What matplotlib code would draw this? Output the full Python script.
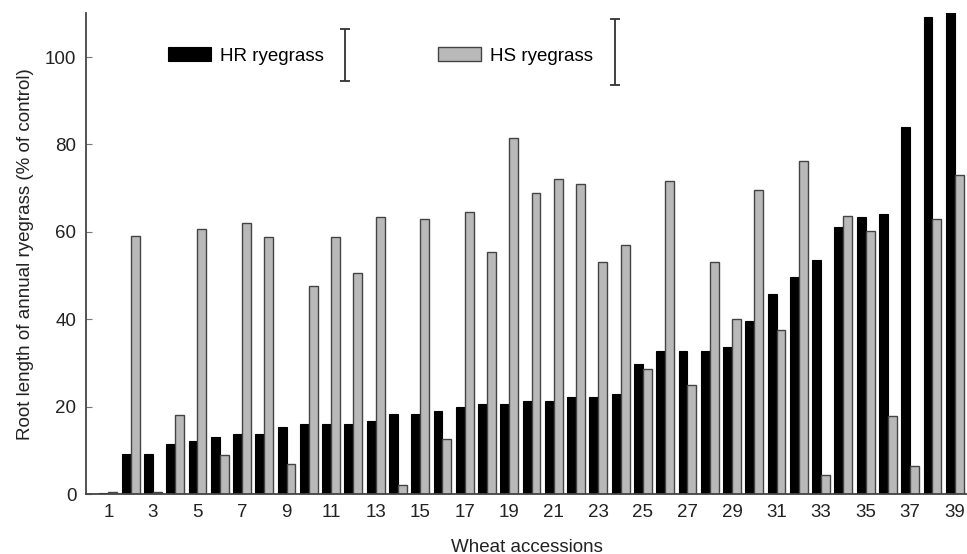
import matplotlib.pyplot as plt
import numpy as np

plt.rcParams['font.family'] = ['Liberation Sans', 'DejaVu Sans']

accessions = np.arange(1, 40)
hr = [0.3, 9.2, 9.2, 11.5, 12.2, 13.0, 13.8, 13.8, 15.3, 16.0,
      16.0, 16.0, 16.8, 18.3, 18.3, 19.1, 19.9, 20.6, 20.6, 21.4,
      21.4, 22.2, 22.2, 22.9, 29.7, 32.8, 32.8, 32.8, 33.6, 39.7,
      45.8, 49.6, 53.5, 61.1, 63.3, 64.2, 84.0, 109.2, 110.5]
hs = [0.6, 59.1, 0.6, 18.2, 60.7, 8.9, 62.1, 58.9, 6.8, 47.6,
      58.9, 50.5, 63.5, 2.1, 63.0, 12.7, 64.6, 55.3, 81.4, 68.8,
      72.0, 70.9, 53.0, 57.1, 28.6, 71.7, 24.9, 53.2, 40.1, 69.5,
      37.5, 76.2, 4.3, 63.7, 60.1, 17.9, 6.4, 62.9, 72.9]
labels = ["HR ryegrass", "HS ryegrass"]
# LSD bars (centre, half length)
lsd_hr = (100.5, 5.9)
lsd_hs = (101.2, 7.6)

fs = 13.5
fig = plt.figure(figsize=(9.67, 5.54), dpi=100)
ax = fig.add_axes([0.089, 0.108, 0.911, 0.868])

w = 0.40
b1 = ax.bar(accessions - w/2, hr, w, color='black', edgecolor='black', lw=0.8, label=labels[0])
b2 = ax.bar(accessions + w/2, hs, w, color='#b9b9b9', edgecolor='#444444', lw=1.0, label=labels[1])

ax.set_xlim(0, 39.55)
ax.set_ylim(0, 110)
ax.set_yticks(np.arange(0, 101, 20))
ax.set_xticks(accessions[::2])
ax.tick_params(axis='x', length=0, pad=7, labelsize=fs, colors='#222222')
ax.tick_params(axis='y', direction='in', length=4, width=0.8, color='#777777',
               pad=7, labelsize=fs, labelcolor='#222222')
for s in ['top', 'right']:
    ax.spines[s].set_visible(False)
for s in ['left', 'bottom']:
    ax.spines[s].set_color('#444444')
    ax.spines[s].set_linewidth(1.3)

ax.set_ylabel("Root length of annual ryegrass (% of control)", fontsize=fs, color='#222222', labelpad=8)
ax.set_xlabel("Wheat accessions", fontsize=fs, color='#222222', labelpad=13)

kw = dict(loc='upper left', frameon=False, fontsize=fs, handlelength=2.3, handleheight=0.75,
          handletextpad=0.5, borderpad=0, borderaxespad=0)
leg1 = ax.legend(handles=[b1], bbox_to_anchor=(0.093, 0.929), **kw)
ax.add_artist(leg1)
ax.legend(handles=[b2], bbox_to_anchor=(0.3995, 0.929), **kw)

tr = ax.get_yaxis_transform()
for xa, (c, h) in [(0.294, lsd_hr), (0.6005, lsd_hs)]:
    ax.vlines(xa, c - h, c + h, color='#333333', lw=1.3, transform=tr)
    ax.hlines([c - h, c + h], xa - 0.006, xa + 0.006, color='#333333', lw=1.3, transform=tr)

fig.savefig("out.png", dpi=100)
